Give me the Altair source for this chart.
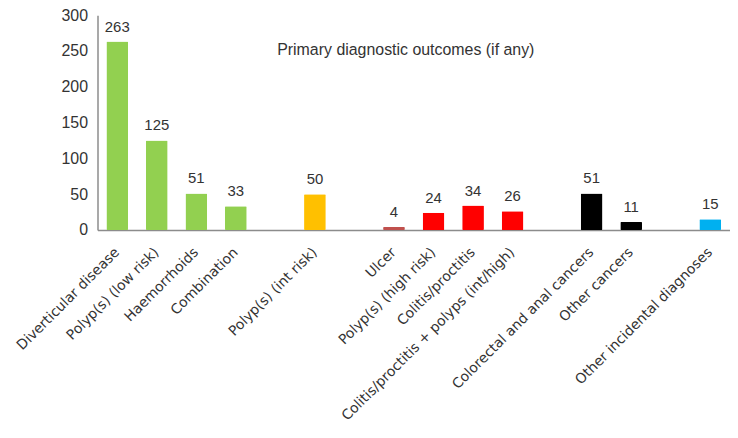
import altair as alt
import pandas as pd

categories = [
    "Diverticular disease", "Polyp(s) (low risk)", "Haemorrhoids", "Combination", "_gap1",
    "Polyp(s) (int risk)", "_gap2",
    "Ulcer", "Polyp(s) (high risk)", "Colitis/proctitis", "Colitis/proctitis + polyps (int/high)", "_gap3",
    "Colorectal and anal cancers", "Other cancers", "_gap4",
    "Other incidental diagnoses",
]
values = [263, 125, 51, 33, None, 50, None, 4, 24, 34, 26, None, 51, 11, None, 15]
colors = ["#92d050", "#92d050", "#92d050", "#92d050", "#ffffff",
          "#ffc000", "#ffffff",
          "#c0504d", "#ff0000", "#ff0000", "#ff0000", "#ffffff",
          "#000000", "#000000", "#ffffff",
          "#00b0f0"]

df = pd.DataFrame({"cat": categories, "val": values, "col": colors})
bars_df = df.dropna()

x = alt.X("cat:N", sort=categories,
          scale=alt.Scale(domain=categories, paddingInner=0.45, paddingOuter=0.225),
          axis=alt.Axis(title=None, labelAngle=-45, labelAlign="right", labelBaseline="middle",
                        labelPadding=20, ticks=False, domainColor="#8c8c8c", domainWidth=1.5,
                        labelFont="DejaVu Sans", labelFontSize=14, labelColor="#333333",
                        labelExpr="indexof(datum.label, '_gap') >= 0 ? '' : datum.label",
                        labelOverlap=False, labelLimit=400))
y = alt.Y("val:Q", scale=alt.Scale(domain=[0, 300]),
          axis=alt.Axis(title=None, values=[0, 50, 100, 150, 200, 250, 300], grid=False, ticks=False,
                        domainColor="#8c8c8c", domainWidth=1.5, labelPadding=10,
                        labelFont="Liberation Sans", labelFontSize=16, labelColor="#333333"))

base = alt.Chart(bars_df)
bars = base.mark_bar(cornerRadius=1).encode(x=x, y=y, color=alt.Color("col:N", scale=None))
labels = base.mark_text(baseline="bottom", dy=-7, font="Liberation Sans", fontSize=15,
                        color="#333333").encode(x=x, y=y, text="val:Q")
title = alt.Chart(pd.DataFrame({"t": ["Primary diagnostic outcomes (if any)"]})).mark_text(
    font="Liberation Sans", fontSize=16, color="#333333", align="center", baseline="middle"
).encode(x=alt.value(310), y=alt.value(35), text="t:N")

chart = alt.layer(bars, labels, title).properties(
    width=636, height=216,
    autosize=alt.AutoSizeParams(type="none"),
    padding={"left": 90, "top": 6, "right": 0, "bottom": 200},
).configure_view(stroke=None)

chart.save("out.html", embed_options={"renderer": "svg", "actions": False})
